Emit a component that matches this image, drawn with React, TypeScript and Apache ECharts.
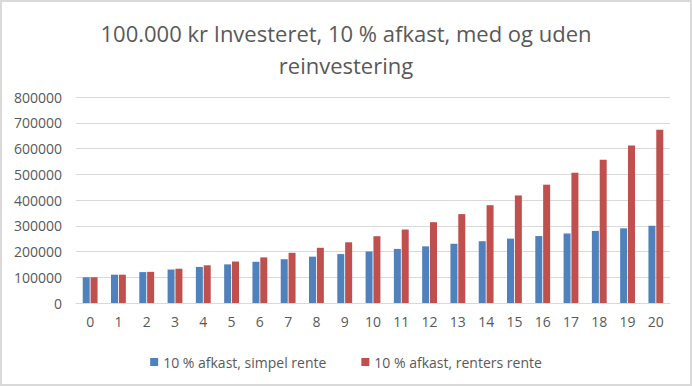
import React, { useEffect, useRef } from "react";
import * as echarts from "echarts";

const titleText = "100.000 kr Investeret, 10 % afkast, med og uden\nreinvestering";
const years = ["0","1","2","3","4","5","6","7","8","9","10","11","12","13","14","15","16","17","18","19","20"];
const simpleLabel = "10 % afkast, simpel rente";
const compoundLabel = "10 % afkast, renters rente";
const simpleValues = [100000,110000,120000,130000,140000,150000,160000,170000,180000,190000,200000,210000,220000,230000,240000,250000,260000,270000,280000,290000,300000];
const compoundValues = [100000,110000,121000,133100,146410,161051,177156,194872,214359,235795,259374,285312,313843,345227,379750,417725,459497,505447,555992,611591,672750];

const FONT = "'Open Sans', 'Noto Sans', sans-serif";

export default function App() {
  const ref = useRef<HTMLDivElement>(null);
  useEffect(() => {
    document.body.style.margin = "0";
    const chart = echarts.init(ref.current!, null, { renderer: "svg" });
    chart.setOption({
      animation: false,
      backgroundColor: "#ffffff",
      title: {
        text: titleText,
        left: "center",
        top: 12,
        textStyle: { fontFamily: FONT, fontSize: 22, fontWeight: "normal", color: "#595959", lineHeight: 32 },
      },
      graphic: [
        { type: "rect", shape: { x: 1, y: 1, width: 690, height: 384 }, style: { fill: "none", stroke: "#d9d9d9", lineWidth: 2 }, silent: true },
      ],
      legend: {
        top: 350,
        left: "center",
        itemWidth: 8,
        itemHeight: 8,
        itemGap: 35,
        icon: "rect",
        textStyle: { fontFamily: FONT, fontSize: 14, color: "#595959" },
        data: [simpleLabel, compoundLabel],
      },
      grid: { left: 76, right: 22, top: 97, bottom: 83, containLabel: false },
      xAxis: {
        type: "category",
        data: years,
        axisLine: { lineStyle: { color: "#d9d9d9" } },
        axisTick: { show: false },
        axisLabel: { fontFamily: FONT, fontSize: 14, color: "#595959", margin: 11 },
      },
      yAxis: {
        type: "value",
        min: 0,
        max: 800000,
        interval: 100000,
        axisLine: { show: false },
        axisTick: { show: false },
        splitLine: { lineStyle: { color: "#d9d9d9" } },
        axisLabel: { fontFamily: FONT, fontSize: 14, color: "#595959", margin: 14, formatter: (v: number) => String(v) },
      },
      series: [
        { name: simpleLabel, type: "bar", data: simpleValues, itemStyle: { color: "#4F81BD" }, barWidth: 7, barGap: "12%" },
        { name: compoundLabel, type: "bar", data: compoundValues, itemStyle: { color: "#C0504D" }, barWidth: 7 },
      ],
    });
    return () => chart.dispose();
  }, []);
  return <div ref={ref} style={{ position: "fixed", left: 0, top: 0, width: 692, height: 386 }} />;
}
